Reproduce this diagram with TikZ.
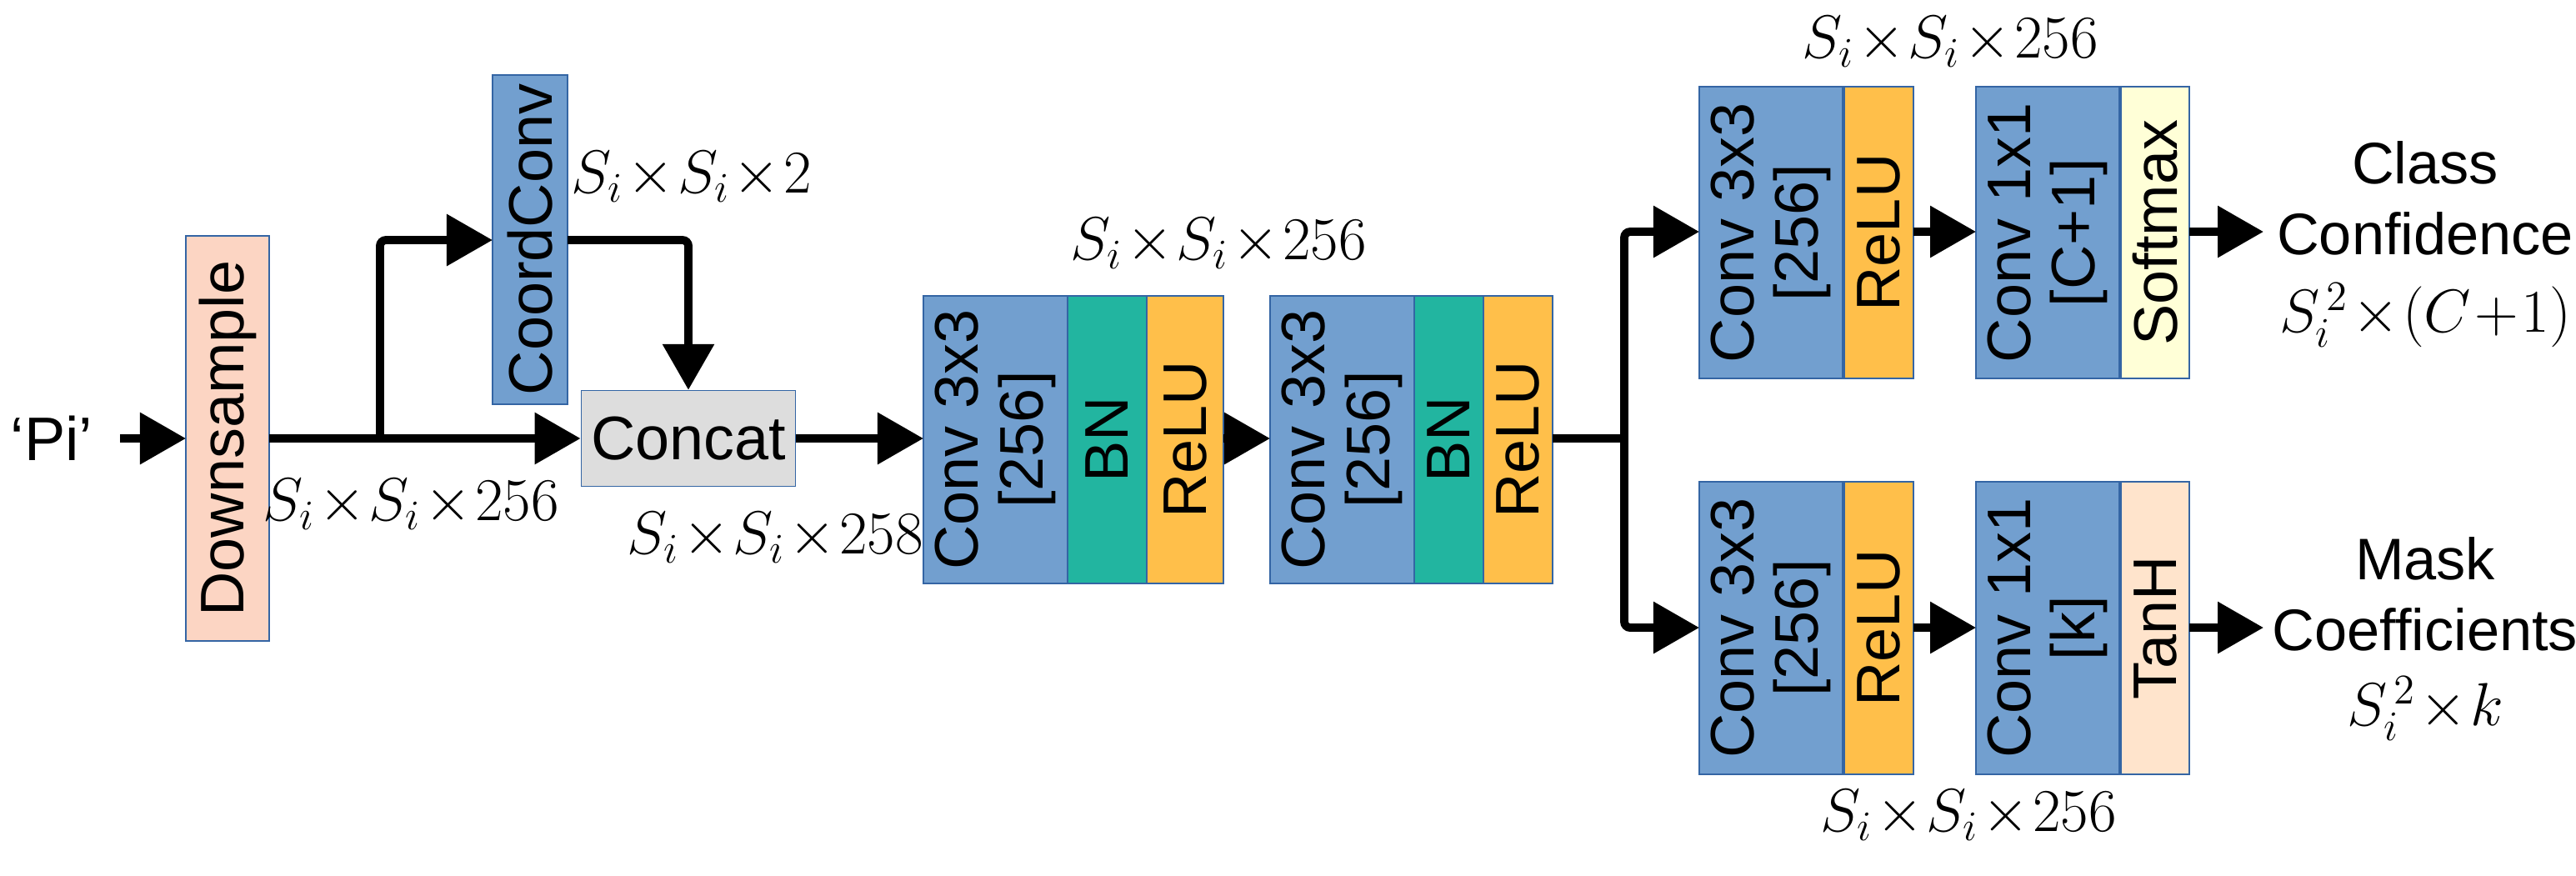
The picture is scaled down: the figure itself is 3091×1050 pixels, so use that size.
\documentclass[tikz,border=0pt]{standalone}
\usepackage{fontspec}
\setmainfont{Liberation Sans}
\usetikzlibrary{arrows.meta}
\definecolor{cblue}{HTML}{729FCF}
\definecolor{cedge}{HTML}{3465A4}
\definecolor{corange}{HTML}{FFBF4A}
\definecolor{cteal}{HTML}{22B5A0}
\definecolor{cpeach}{HTML}{FCD5C3}
\definecolor{cyel}{HTML}{FFFFD7}
\definecolor{ctanh}{HTML}{FFE4CC}
\definecolor{cgray}{HTML}{DDDDDD}
\begin{document}
\begin{tikzpicture}[x=0.01cm,y=-0.01cm,
  font=\fontsize{19}{21}\selectfont,
  box/.style={draw=cedge,line width=0.4pt,inner sep=0pt,align=center,rotate=90,font=\fontsize{21}{22}\selectfont},
  arr/.style={line width=2.8pt,-{Triangle[length=0.55cm,width=0.6cm]}},
  ln/.style={line width=2.8pt},
  lab/.style={font=\fontsize{19.5}{22}\selectfont}]
\useasboundingbox (0,0) rectangle (3091,1050);
\newcommand{\bx}[7]{\node[box,fill=#6,minimum width={(#5-#4)*0.01cm},minimum height={(#3-#2)*0.01cm}] (#1) at ({(#2+#3)/2},{(#4+#5)/2}) {#7};}
\bx{down}{223}{323}{283}{769}{cpeach}{Downsample}
\bx{coord}{591}{681}{90}{485}{cblue}{CoordConv}
\node[draw=cedge,line width=0.4pt,fill=cgray,minimum width=2.36cm,minimum height=1.15cm,font=\fontsize{21}{22}\selectfont] (concat) at (826,526) {Concat};
\bx{c1}{1108}{1281}{355}{700}{cblue}{Conv 3x3\\{}[256]}
\bx{b1}{1281}{1376}{355}{700}{cteal}{BN}
\bx{r1}{1376}{1468}{355}{700}{corange}{ReLU}
\bx{c2}{1524}{1697}{355}{700}{cblue}{Conv 3x3\\{}[256]}
\bx{b2}{1697}{1780}{355}{700}{cteal}{BN}
\bx{r2}{1780}{1863}{355}{700}{corange}{ReLU}
\bx{tc1}{2039}{2211}{104}{454}{cblue}{Conv 3x3\\{}[256]}
\bx{tr}{2213}{2296}{104}{454}{corange}{ReLU}
\bx{tc2}{2371}{2543}{104}{454}{cblue}{Conv 1x1\\{}[C+1]}
\bx{ts}{2545}{2627}{104}{454}{cyel}{Softmax}
\bx{bc1}{2039}{2211}{578}{929}{cblue}{Conv 3x3\\{}[256]}
\bx{br}{2213}{2296}{578}{929}{corange}{ReLU}
\bx{bc2}{2371}{2543}{578}{929}{cblue}{Conv 1x1\\{}[k]}
\bx{bt}{2545}{2627}{578}{929}{ctanh}{TanH}
\node[font=\fontsize{21}{22}\selectfont] (pi) at (62,526) {‘Pi’};
\coordinate (pis) at (144,526);
\coordinate (pie) at (223,526);
\draw[arr] (pis) -- (pie);
\coordinate (ds) at (323,526);
\coordinate (sp) at (456,526);
\coordinate (up) at (456,288);
\coordinate (cin) at (591,288);
\coordinate (cout) at (681,288);
\coordinate (cc) at (826,288);
\coordinate (ci) at (1108,526);
\coordinate (ro) at (1468,526);
\coordinate (c2i) at (1524,526);
\draw[ln] (ds) -- (sp);
\draw[arr] (sp) -- (concat.west);
\draw[arr,rounded corners=2pt] (sp) -- (up) -- (cin);
\draw[arr,rounded corners=2pt] (cout) -- (cc) -- (concat.north);
\draw[arr] (concat.east) -- (ci);
\draw[arr] (ro) -- (c2i);
\coordinate (r2o) at (1863,526);
\coordinate (jn) at (1949,526);
\coordinate (ju) at (1949,278);
\coordinate (jd) at (1949,753);
\coordinate (tin) at (2039,278);
\coordinate (bin) at (2039,753);
\draw[ln] (r2o) -- (jn);
\draw[arr,rounded corners=2pt] (jn) -- (ju) -- (tin);
\draw[arr,rounded corners=2pt] (jn) -- (jd) -- (bin);
\draw[arr] (2296,278) coordinate (a1) -- (2371,278) coordinate (a2);
\draw[arr] (2296,753) coordinate (a3) -- (2371,753) coordinate (a4);
\node[align=center,font=\fontsize{20}{24}\selectfont] (cls) at (2910,238) {Class\\Confidence};
\node[align=center,font=\fontsize{20}{24}\selectfont] (msk) at (2910,713) {Mask\\Coefficients};
\draw[arr] (2627,278) coordinate (o1) -- (2716,278) coordinate (o2);
\draw[arr] (2627,753) coordinate (o3) -- (2716,753) coordinate (o4);
\node[lab] (l1) at (830,212) {$S_i\!\times\! S_i\!\times\! 2$};
\node[lab] (l2) at (493,605) {$S_i\!\times\! S_i\!\times\! 256$};
\node[lab] (l3) at (930,645) {$S_i\!\times\! S_i\!\times\! 258$};
\node[lab] (l4) at (1462,292) {$S_i\!\times\! S_i\!\times\! 256$};
\node[lab] (l5) at (2340,50) {$S_i\!\times\! S_i\!\times\! 256$};
\node[lab] (l6) at (2362,978) {$S_i\!\times\! S_i\!\times\! 256$};
\node[lab] (l7) at (2910,378) {$S_i^{\,2}\!\times\!(C\!+\!1)$};
\node[lab] (l8) at (2910,850) {$S_i^{\,2}\!\times\! k$};
\end{tikzpicture}
\end{document}
